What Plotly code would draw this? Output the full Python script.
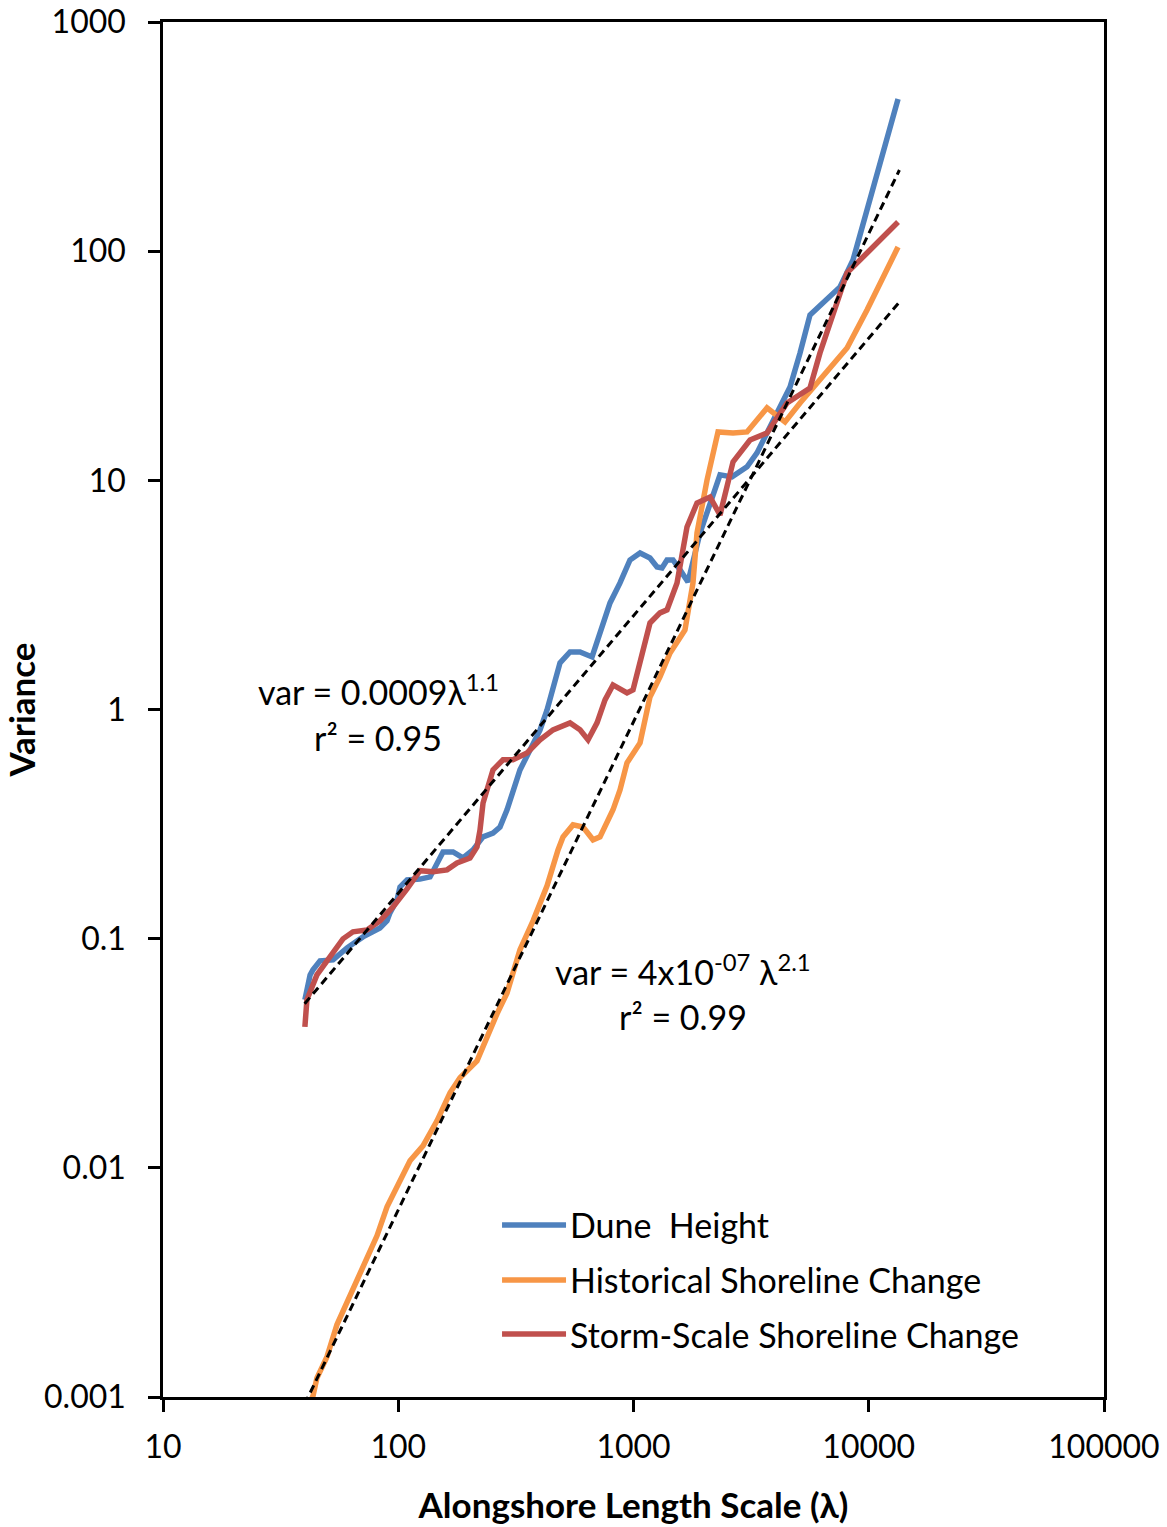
import plotly.graph_objects as go

# ---- data ----
dune_lambda = [40.1, 42.2, 43.4, 46.5, 52.8, 60.6, 70.8, 78.1, 83.6, 89.6, 92.2, 98.8, 101.7, 109, 123.7,
               136.5, 146.1, 155, 171, 188.4, 207.8, 229.3, 252.8, 270.7, 290, 307.4, 329.2, 363.2, 400.6, 429,
               454.9, 487.1, 537.3, 592.6, 666.5, 720.6, 794.7, 876.3, 966.2, 1066, 1175, 1259, 1322, 1388, 1472,
               1577, 1705, 1918, 2115, 2332, 2623, 3038, 3350, 3694, 4195, 4628, 5104, 5627, 7549, 8572, 13320]
dune_var = [0.0541, 0.0695, 0.0731, 0.080, 0.0808, 0.0912, 0.1018, 0.1071, 0.1114, 0.1196, 0.1296, 0.1477, 0.168,
            0.1805, 0.182, 0.186, 0.214, 0.239, 0.239, 0.225, 0.244, 0.278, 0.289, 0.307, 0.365, 0.446, 0.545,
            0.666, 0.815, 0.996, 1.218, 1.599, 1.783, 1.783, 1.696, 2.158, 2.918, 3.566, 4.494, 4.822, 4.585,
            4.19, 4.148, 4.494, 4.494, 4.065, 3.602, 5.895, 7.96, 10.56, 10.35, 11.45, 13.17, 16.1, 20.29, 25.56,
            35.97, 52.7, 69.8, 91.5, 461]

hist_lambda = [40.1, 43.4, 45.1, 49.8, 54.9, 62.3, 70.8, 81.2, 89.6, 98.8, 112.2, 127.4, 146.1, 166, 183,
               216.1, 238.4, 262.9, 290, 329.2, 374.1, 429, 477.7, 501.6, 553.2, 610.2, 672.9, 720.6, 818.3,
               876.3, 938.4, 1066, 1175, 1296, 1430, 1655, 1790, 1862, 2054, 2287, 2649, 3038, 3694, 4406,
               5104, 6026, 8085, 9831, 13320]
hist_var = [0.00085, 0.00101, 0.00121, 0.0015, 0.00207, 0.00276, 0.00366, 0.00505, 0.00676, 0.00835, 0.01073,
            0.01247, 0.01604, 0.02125, 0.0247, 0.0293, 0.0377, 0.047, 0.058, 0.0894, 0.1196, 0.17, 0.244, 0.278,
            0.3137, 0.307, 0.27, 0.278, 0.365, 0.446, 0.585, 0.715, 1.135, 1.388, 1.765, 2.225, 3.566, 5.895,
            10.04, 16.26, 16.1, 16.26, 20.7, 17.98, 21.76, 26.6, 37.8, 55.4, 104.3]

storm_lambda = [40.1, 40.9, 45.1, 51.3, 58.2, 64.2, 73.7, 83.6, 95, 109, 123.7, 140.5, 161.2, 177.7, 201.8,
                216.1, 222.6, 229.3, 245.5, 252.8, 278.8, 307.4, 352.7, 400.6, 454.9, 537.3, 592.6, 640.9,
                699.8, 756.7, 818.3, 938.4, 995.2, 1066, 1175, 1296, 1388, 1531, 1624, 1688, 1862, 2115, 2332,
                2449, 2649, 3128, 3694, 4494, 5627, 6205, 7047, 8085, 9831, 13320]
storm_var = [0.0412, 0.0541, 0.0695, 0.0833, 0.0998, 0.1071, 0.1092, 0.1196, 0.1376, 0.165, 0.198, 0.196,
             0.1996, 0.214, 0.225, 0.2515, 0.298, 0.391, 0.508, 0.545, 0.603, 0.603, 0.646, 0.737, 0.815, 0.874,
             0.815, 0.737, 0.874, 1.101, 1.28, 1.181, 1.218, 1.599, 2.386, 2.639, 2.721, 3.566, 4.822, 6.26,
             7.96, 8.46, 7.06, 8.81, 12.03, 15.0, 16.1, 21.76, 25.3, 35.97, 53.7, 80.4, 98.2, 134.1]

fit1_lambda = [40, 13500]
fit1_var = [0.052, 60]
fit2_lambda = [40, 13500]
fit2_var = [0.00093, 226]

x_tickvals = [10, 100, 1000, 10000, 100000]
x_ticktext = ["10", "100", "1000", "10000", "100000"]
y_tickvals = [0.001, 0.01, 0.1, 1, 10, 100, 1000]
y_ticktext = ["0.001", "0.01", "0.1", "1", "10", "100", "1000"]

series_names = ["Dune  Height", "Historical Shoreline Change", "Storm-Scale Shoreline Change"]
series_colors = ["#4F81BD", "#F79646", "#C0504D"]

FONT = "Lato, 'Open Sans', sans-serif"

fig = go.Figure()
for lam, var, name, col in [(dune_lambda, dune_var, series_names[0], series_colors[0]),
                            (hist_lambda, hist_var, series_names[1], series_colors[1]),
                            (storm_lambda, storm_var, series_names[2], series_colors[2])]:
    fig.add_trace(go.Scatter(x=lam, y=var, mode="lines", name=name,
                             line=dict(color=col, width=5.5), showlegend=False))

for lam, var in [(fit1_lambda, fit1_var), (fit2_lambda, fit2_var)]:
    fig.add_trace(go.Scatter(x=lam, y=var, mode="lines", showlegend=False,
                             line=dict(color="black", width=3, dash="8px,5px")))

fig.update_xaxes(type="log", range=[1, 5], tickvals=x_tickvals, ticktext=x_ticktext, automargin=False,
                 showgrid=False, zeroline=False, showline=True, linecolor="black", linewidth=2.5,
                 mirror=True, ticks="outside", ticklen=12, tickwidth=2.5, tickcolor="black",
                 ticklabelstandoff=8,
                 tickfont=dict(family=FONT, size=32, color="black"),
                 title=dict(text="<b>Alongshore Length Scale (λ)</b>", standoff=30,
                            font=dict(family=FONT, size=35, color="black")))
fig.update_yaxes(type="log", range=[-3, 3], tickvals=y_tickvals, ticktext=y_ticktext, automargin=False,
                 showgrid=False, zeroline=False, showline=True, linecolor="black", linewidth=2.5,
                 mirror=True, ticks="outside", ticklen=12, tickwidth=2.5, tickcolor="black",
                 ticklabelstandoff=16,
                 tickfont=dict(family=FONT, size=32, color="black"),
                 title=dict(text="<b>Variance</b>", standoff=12,
                            font=dict(family=FONT, size=35, color="black")))

ann_font = dict(family=FONT, size=34, color="black")
fig.add_annotation(xref="paper", yref="paper", x=0.2285, y=0.514, xanchor="center", yanchor="middle",
                   showarrow=False, text="var = 0.0009λ<sup>1.1</sup>", font=ann_font)
fig.add_annotation(xref="paper", yref="paper", x=0.2285, y=0.48, xanchor="center", yanchor="middle",
                   showarrow=False, text="r² = 0.95", font=ann_font)
fig.add_annotation(xref="paper", yref="paper", x=0.5526, y=0.3105, xanchor="center", yanchor="middle",
                   showarrow=False, text="var = 4x10<sup>-07</sup> λ<sup>2.1</sup>", font=ann_font)
fig.add_annotation(xref="paper", yref="paper", x=0.5526, y=0.2764, xanchor="center", yanchor="middle",
                   showarrow=False, text="r² = 0.99", font=ann_font)

# manual legend
leg_y = [0.1251, 0.0851, 0.0458]
for name, col, yy in zip(series_names, series_colors, leg_y):
    fig.add_shape(type="line", xref="paper", yref="paper", x0=0.3603, x1=0.4283, y0=yy, y1=yy,
                  line=dict(color=col, width=5.5))
    fig.add_annotation(xref="paper", yref="paper", x=0.4305, y=yy, xanchor="left", yanchor="middle",
                       showarrow=False, text=name.replace("  ", "&nbsp; "), font=ann_font)

fig.update_layout(width=1167, height=1527, plot_bgcolor="white", paper_bgcolor="white",
                  margin=dict(l=163, r=63, t=22, b=130), showlegend=False)

fig.write_html("out.html", config={"displayModeBar": False},
               post_script="document.body.style.margin='0';document.body.style.overflow='hidden';")
